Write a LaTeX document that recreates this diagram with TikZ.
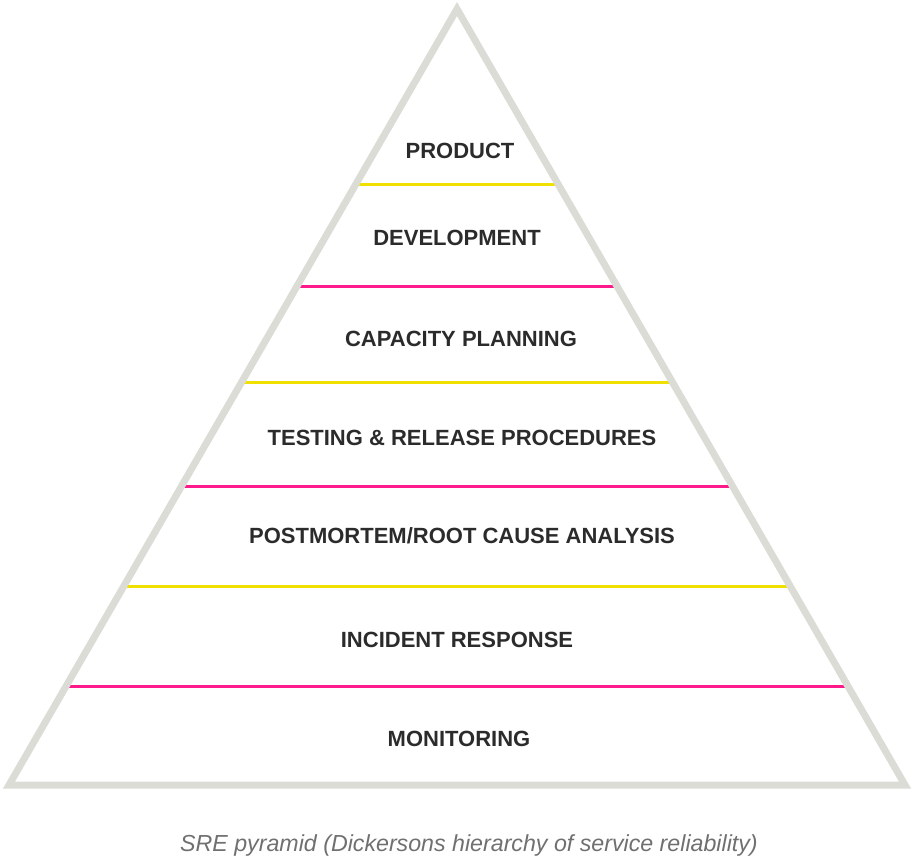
\documentclass[tikz,border=0pt]{standalone}
\usepackage{fontspec}
\setmainfont{Liberation Sans}
\definecolor{pyrgray}{HTML}{DCDCD6}
\definecolor{pyryellow}{HTML}{F0E000}
\definecolor{pyrpink}{HTML}{FF1A8C}
\definecolor{pyrtext}{HTML}{2B2B2B}
\definecolor{captgray}{HTML}{707070}
\begin{document}
\begin{tikzpicture}[x=1pt,y=-1pt,line join=miter,
	layer/.style={font=\fontsize{22}{24}\selectfont\bfseries,text=pyrtext},
	ysep/.style={pyryellow,line width=3pt},
	psep/.style={pyrpink,line width=3pt}] %SRE pyramid
	\useasboundingbox (0,0) rectangle (914,861);
	\coordinate (top) at (457,9);
	\coordinate (bl) at (9,785);
	\coordinate (br) at (905,785);
	% separators
	\draw[ysep] (355.6,185)--(558.4,185);
	\draw[psep] (296.5,287)--(617.5,287);
	\draw[ysep] (241.1,383)--(672.9,383);
	\draw[psep] (181.6,486)--(732.4,486);
	\draw[ysep] (123.9,586)--(790.1,586);
	\draw[psep] (66.2,686)--(847.8,686);
	\draw[pyrgray,line width=7pt] (top)--(br)--(bl)--cycle;
	% labels
	\node[layer] (product) at (460,151) {PRODUCT};
	\node[layer] (dev) at (457,238) {DEVELOPMENT};
	\node[layer] (capacity) at (461,339) {CAPACITY PLANNING};
	\node[layer] (testing) at (462,438) {TESTING \& RELEASE PROCEDURES};
	\node[layer] (postmortem) at (462,536) {POSTMORTEM/ROOT CAUSE ANALYSIS};
	\node[layer] (incident) at (457,640) {INCIDENT RESPONSE};
	\node[layer] (monitoring) at (459,739) {MONITORING};
	\node[font=\fontsize{23.2}{25}\selectfont\itshape,text=captgray] (caption) at (469,845) {SRE pyramid (Dickersons hierarchy of service reliability)};
\end{tikzpicture}
\end{document}
